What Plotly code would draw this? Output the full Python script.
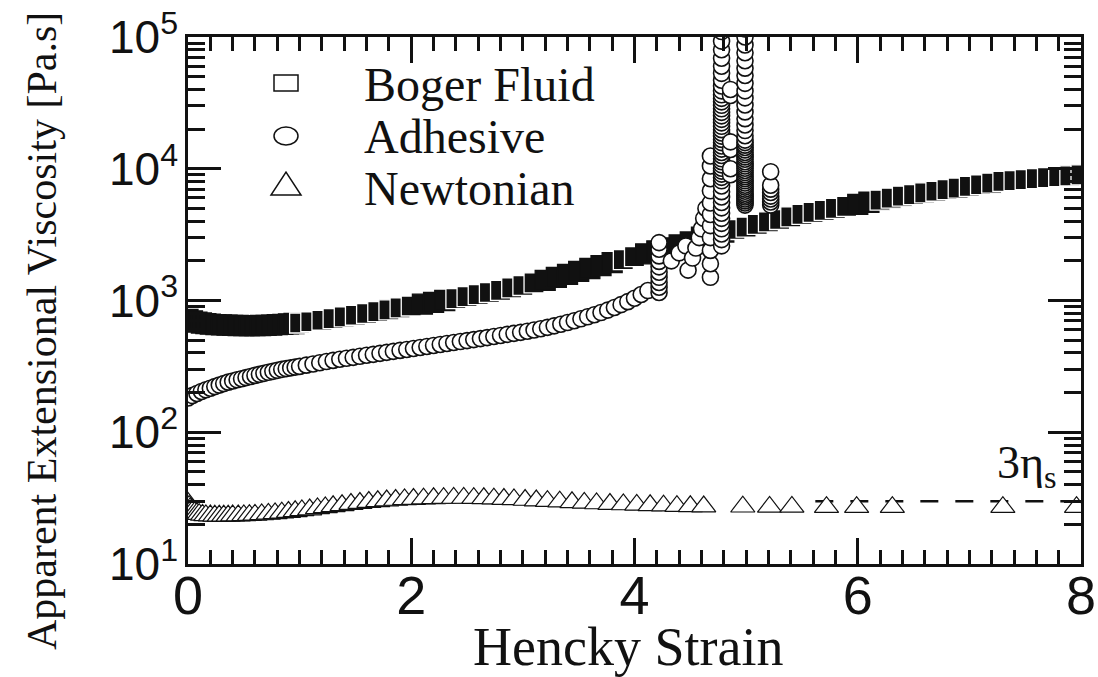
import plotly.graph_objects as go

# ---- data -----------------------------------------------------------------
# Boger fluid (open squares, very densely sampled)
boger_strain = [0.00, 0.04, 0.08, 0.12, 0.16, 0.20, 0.25, 0.30, 0.35, 0.40,
                0.45, 0.50, 0.55, 0.60, 0.65, 0.70, 0.75, 0.80, 0.85, 0.90,
                0.95, 1.0, 1.1, 1.2, 1.3, 1.4, 1.5, 1.6, 1.7, 1.8, 1.9, 2.0,
                2.1, 2.2, 2.3, 2.4, 2.5, 2.6, 2.7, 2.8, 2.9, 3.0, 3.1, 3.2,
                3.3, 3.4, 3.5, 3.6, 3.7, 3.8, 3.9, 4.0, 4.1, 4.2, 4.3, 4.4,
                4.5, 4.6, 4.7, 4.8, 4.9, 5.0, 5.1, 5.2, 5.3, 5.4, 5.5, 5.6,
                5.7, 5.8, 5.9, 6.0, 6.1, 6.2, 6.3, 6.4, 6.5, 6.6, 6.7, 6.8,
                6.9, 7.0, 7.1, 7.2, 7.3, 7.4, 7.5, 7.6, 7.7, 7.8, 7.9, 8.0]
boger_visc = [720, 700, 685, 675, 668, 662, 657, 653, 650, 648,
              646, 645, 645, 645, 646, 648, 651, 655, 659, 664,
              669, 675, 690, 708, 728, 750, 773, 797, 822, 850, 878, 908,
              938, 968, 1000, 1035, 1070, 1110, 1150, 1195, 1245, 1300, 1360, 1420,
              1500, 1580, 1665, 1750, 1840, 1940, 2040, 2150, 2260, 2380, 2510, 2640,
              2780, 3030, 3170, 3310, 3460, 3610, 3780, 3950, 4120, 4310, 4500, 4670,
              4830, 5010, 5190, 5370, 5570, 5770, 5980, 6190, 6370, 6560, 6750, 6940,
              7140, 7350, 7560, 7780, 8010, 8140, 8280, 8420, 8560, 8700, 8840, 8990]

# Adhesive (open circles): smooth growth up to ~4.1 ...
adh_strain = [0.00, 0.04, 0.08, 0.12, 0.16, 0.20, 0.24, 0.28, 0.32, 0.36,
              0.40, 0.44, 0.48, 0.52, 0.56, 0.60, 0.64, 0.68, 0.72, 0.76,
              0.80, 0.84, 0.88, 0.92, 0.96, 1.00, 1.06, 1.12, 1.18, 1.24,
              1.30, 1.36, 1.42, 1.48, 1.54, 1.60, 1.66, 1.72, 1.78, 1.84,
              1.90, 1.96, 2.02, 2.08, 2.14, 2.20, 2.26, 2.32, 2.38, 2.44,
              2.50, 2.56, 2.62, 2.68, 2.74, 2.80, 2.86, 2.92, 2.98, 3.04,
              3.10, 3.16, 3.22, 3.28, 3.34, 3.40, 3.46, 3.52, 3.58, 3.64,
              3.70, 3.76, 3.82, 3.88, 3.94, 4.00, 4.06, 4.12]
adh_visc = [182, 190, 197, 204, 210, 216, 222, 228, 234, 240,
            245, 250, 255, 260, 265, 270, 275, 280, 285, 290,
            295, 300, 304, 308, 312, 316, 323, 330, 337, 344,
            351, 358, 364, 370, 377, 384, 390, 397, 404, 411,
            418, 425, 432, 440, 448, 456, 464, 472, 480, 488,
            496, 505, 514, 523, 533, 543, 553, 563, 573, 585,
            597, 610, 625, 642, 660, 680, 702, 726, 752, 780,
            810, 845, 885, 930, 980, 1040, 1110, 1190]

# ... then the rupture events, where many samples pile up at nearly one strain
rupture_strain = ([4.22] * 10 + [4.33, 4.40, 4.46]
                  + [4.48, 4.52, 4.55, 4.58, 4.60, 4.62, 4.64]
                  + [4.68] * 11 + [4.78] * 48 + [4.86] * 6 + [4.99] * 47
                  + [5.22] * 8)
rupture_visc = [1150, 1260, 1370, 1500, 1640, 1800, 1980, 2180, 2450, 2750,
                2000, 2300, 2600,
                1700, 2100, 2500, 3000, 3500, 4200, 5000,
                1500, 1900, 2400, 3000, 3700, 4500, 5500, 6800, 8400, 10500, 12500,
                2600, 2900, 3200, 3500, 3850, 4200, 4600, 5050, 5550, 6100,
                6700, 7400, 8100, 8600, 9100, 9600, 10100, 10700, 11300, 11900,
                12600, 13300, 14100, 14900, 15800, 16700, 17700, 18700, 19800, 21000,
                22300, 23700, 25200, 26800, 28500, 30300, 32200, 34200, 36400, 39000,
                42500, 47000, 53000, 60000, 69000, 80000, 93000, 110000,
                9000, 10000, 14000, 16000, 36000, 40000,
                5300, 5500, 5700, 5900, 6100, 6300, 6500, 6750, 7000, 7250,
                7500, 7800, 8100, 8400, 8700, 9000, 9350, 9700, 10100, 10500,
                10900, 11300, 11800, 12300, 12800, 13300, 13900, 14500, 15100, 15800,
                16500, 17800, 19500, 21500, 24000, 27000, 30500, 34500, 39000, 44500,
                51000, 58000, 66000, 76000, 87000, 100000, 115000,
                5300, 5600, 5900, 6200, 6600, 7000, 7500, 9500]

# Newtonian fluid (open triangles)
newt_strain = [0.00, 0.01, 0.02, 0.03, 0.04, 0.06, 0.08, 0.10, 0.13, 0.16,
               0.20, 0.24, 0.28, 0.32, 0.36, 0.40, 0.45, 0.50, 0.55, 0.60,
               0.66, 0.72, 0.78, 0.84, 0.90, 0.96, 1.02, 1.09, 1.16, 1.23,
               1.30, 1.38, 1.46, 1.54, 1.62, 1.70, 1.78, 1.86, 1.94, 2.02,
               2.11, 2.20, 2.29, 2.38, 2.47, 2.56, 2.65, 2.74, 2.83, 2.92,
               3.02, 3.12, 3.22, 3.33, 3.44, 3.55, 3.66, 3.78, 3.90, 4.02,
               4.14, 4.26, 4.38, 4.50, 4.62, 4.97, 5.21, 5.41, 5.72, 5.99,
               6.31, 7.30, 7.96]
newt_visc = [29.0, 27.5, 26.5, 25.8, 25.2, 24.6, 24.2, 23.9, 23.6, 23.4,
             23.3, 23.2, 23.2, 23.2, 23.2, 23.3, 23.3, 23.4, 23.5, 23.6,
             23.8, 24.0, 24.2, 24.5, 24.8, 25.1, 25.5, 25.9, 26.4, 26.9,
             27.4, 27.9, 28.5, 29.0, 29.5, 29.9, 30.3, 30.6, 30.9, 31.1,
             31.3, 31.5, 31.6, 31.7, 31.7, 31.6, 31.5, 31.3, 31.1, 30.9,
             30.6, 30.3, 30.0, 29.7, 29.4, 29.1, 28.8, 28.5, 28.3, 28.1,
             27.9, 27.7, 27.5, 27.4, 27.3, 27.2, 27.1, 27.1, 27.0, 27.0,
             27.0, 27.0, 27.0]

# three times the solvent viscosity
three_eta_s = 30.0
solvent_strain = [5.62, 8.0]

# y-axis decades
decades = [1e1, 1e2, 1e3, 1e4, 1e5]
decade_text = ["10<sup>1</sup>", "10<sup>2</sup>", "10<sup>3</sup>",
               "10<sup>4</sup>", "10<sup>5</sup>"]

# ---- figure ---------------------------------------------------------------
W, H = 1098, 677
L, R, T, B = 188, 17, 37, 113
PW, PH = W - L - R, H - T - B

def px(x):
    return (x - L) / PW

def py(y):
    return (H - B - y) / PH

INK = "#111111"
serif = "Liberation Serif, Times New Roman, serif"

fig = go.Figure()

# dense open squares merge into a dark band; where the sampling opens up
# the individual square edges show through as light slits
slit_ranges = [(0.97, 2.05), (2.35, 3.15), (3.85, 4.05), (4.85, 5.95), (6.15, 8.01)]
edge = ["white" if any(a <= s <= b for a, b in slit_ranges) else INK
        for s in boger_strain]
fig.add_trace(go.Scatter(
    x=boger_strain, y=boger_visc, mode="markers", name="Boger Fluid",
    marker=dict(symbol="square", size=20, color=INK,
                line=dict(color=edge, width=1.3)),
    showlegend=False))

circle_style = dict(symbol="circle", size=16, color="white",
                    line=dict(color=INK, width=1.6))
fig.add_trace(go.Scatter(
    x=adh_strain + rupture_strain, y=adh_visc + rupture_visc,
    mode="markers", name="Adhesive", marker=circle_style, showlegend=False))

fig.add_trace(go.Scatter(
    x=solvent_strain, y=[three_eta_s] * len(solvent_strain), mode="lines",
    line=dict(color=INK, width=2.5, dash="18px,17px"),
    showlegend=False, hoverinfo="skip"))

fig.add_trace(go.Scatter(
    x=newt_strain, y=newt_visc, mode="markers", name="Newtonian",
    marker=dict(symbol="triangle-up", size=21, color="white",
                line=dict(color=INK, width=1.2)),
    showlegend=False))

# ---- legend (symbols + labels) -------------------------------------------
legend_rows = [("Boger Fluid", 84), ("Adhesive", 136), ("Newtonian", 188)]
sym_x = 286
shapes = [
    dict(type="rect", xref="paper", yref="paper", xsizemode="pixel", ysizemode="pixel",
         xanchor=px(sym_x), yanchor=py(83), x0=-12, x1=12, y0=-8, y1=8,
         line=dict(color=INK, width=1.5), fillcolor="white"),
    dict(type="circle", xref="paper", yref="paper", xsizemode="pixel", ysizemode="pixel",
         xanchor=px(sym_x), yanchor=py(136), x0=-12, x1=12, y0=-9, y1=9,
         line=dict(color=INK, width=1.5), fillcolor="white"),
    dict(type="path", xref="paper", yref="paper", xsizemode="pixel", ysizemode="pixel",
         xanchor=px(sym_x), yanchor=py(184), path="M -15,-11 L 15,-11 L 0,12 Z",
         line=dict(color=INK, width=1.5), fillcolor="white"),
]
annotations = []
for label, yc in legend_rows:
    annotations.append(dict(text=label, xref="paper", yref="paper",
                            x=px(362), y=py(yc), xanchor="left", yanchor="middle",
                            showarrow=False, font=dict(family=serif, size=48, color=INK)))

annotations.append(dict(text="3η<sub>s</sub>", xref="paper", yref="paper",
                        x=px(1059), y=py(466), xanchor="right", yanchor="middle",
                        showarrow=False, font=dict(family=serif, size=46, color=INK)))

# axis titles
annotations.append(dict(text="Hencky Strain", xref="paper", yref="paper",
                        x=px(628), y=py(647), xanchor="center", yanchor="middle",
                        showarrow=False, font=dict(family=serif, size=54, color=INK)))
annotations.append(dict(text="Apparent Extensional Viscosity [Pa.s]", xref="paper", yref="paper",
                        x=px(42), y=py(331), xanchor="center", yanchor="middle",
                        textangle=-90, showarrow=False,
                        font=dict(family=serif, size=42, color=INK)))

axis_common = dict(showline=True, linewidth=2.5, linecolor=INK, mirror="ticks",
                   ticks="inside", tickwidth=2.5, tickcolor=INK, automargin=False,
                   showgrid=False, zeroline=False)

fig.update_layout(
    width=W, height=H,
    margin=dict(l=L, r=R, t=T, b=B, autoexpand=False),
    paper_bgcolor="white", plot_bgcolor="white",
    shapes=shapes, annotations=annotations,
    xaxis=dict(range=[0, 8], tick0=0, dtick=2, ticklen=26, ticklabelstandoff=-18,
               minor=dict(dtick=0.2, ticks="inside", ticklen=14, tickwidth=2.5, tickcolor=INK),
               tickfont=dict(family="Liberation Sans Narrow, Arial Narrow, Liberation Sans, Arial",
                             size=54, color=INK),
               **axis_common),
    yaxis=dict(type="log", range=[1, 5], tickmode="array", tickvals=decades,
               ticktext=decade_text, ticklen=33, ticklabelstandoff=-2,
               minor=dict(dtick="D1", ticks="inside", ticklen=17, tickwidth=2.5, tickcolor=INK),
               tickfont=dict(family="Liberation Sans, Arial", size=46, color=INK),
               **axis_common),
)

fig.write_html("out.html")
